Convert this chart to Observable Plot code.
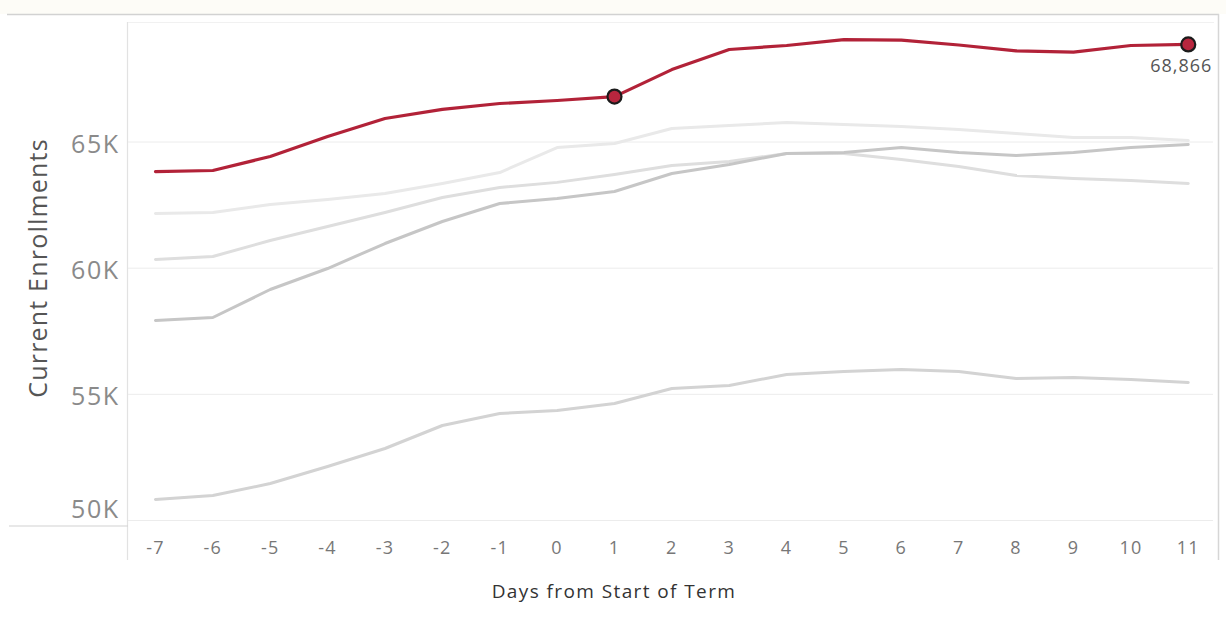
<!DOCTYPE html>
<html>
<head>
<meta charset="utf-8">
<script src="https://cdn.jsdelivr.net/npm/d3@7"></script>
<script src="https://cdn.jsdelivr.net/npm/@observablehq/plot@0.6"></script>
<style>
  html, body { margin: 0; padding: 0; background: #ffffff; }
  #chart svg { display: block; }
  g[aria-label="y-axis tick label"] text { letter-spacing: 1.5px; }
  g[aria-label="x-axis tick label"] text { letter-spacing: 1.2px; }
</style>
</head>
<body>
<div id="chart"></div>
<script>
// ---- data ----
const days = [-7, -6, -5, -4, -3, -2, -1, 0, 1, 2, 3, 4, 5, 6, 7, 8, 9, 10, 11];

const currentTerm = [63830, 63870, 64425, 65220, 65930, 66290, 66525, 66645, 66800, 67870, 68665, 68825, 69060, 69040, 68845, 68610, 68565, 68825, 68866];

const priorTermA = [62166, 62206, 62523, 62720, 62960, 63355, 63790, 64780, 64940, 65535, 65655, 65770, 65690, 65615, 65495, 65335, 65180, 65180, 65060];
const priorTermB = [60343, 60462, 61096, 61650, 62205, 62800, 63200, 63400, 63712, 64070, 64230, 64545, 64545, 64305, 64030, 63672, 63553, 63474, 63355];
const priorTermC = [57925, 58044, 59154, 59986, 60977, 61849, 62562, 62760, 63038, 63751, 64109, 64545, 64584, 64782, 64584, 64465, 64584, 64782, 64900];
const priorTermD = [50832, 50990, 51466, 52140, 52853, 53765, 54240, 54360, 54637, 55232, 55350, 55786, 55905, 55984, 55905, 55628, 55668, 55588, 55470];

const priorNames = ["A", "B", "C", "D"];
const priorValues = [priorTermA, priorTermB, priorTermC, priorTermD];

const yTicks = [50000, 55000, 60000, 65000];
const highlightDays = [1, 11];
const labelDays = [11];

// ---- tables built from the arrays ----
const priorRows = priorNames.flatMap((name, i) =>
  days.map((d, j) => ({ series: name, day: d, value: priorValues[i][j] })));
const currentRows = days.map((d, j) => ({ day: d, value: currentTerm[j] }));
const highlightRows = currentRows.filter(r => highlightDays.includes(r.day));
const labelRows = currentRows.filter(r => labelDays.includes(r.day));

const FONT = "'Open Sans', 'DejaVu Sans', sans-serif";

const chart = Plot.plot({
  width: 1226,
  height: 621,
  marginTop: 22,
  marginBottom: 96,
  marginLeft: 128,
  marginRight: 13,
  style: { fontFamily: FONT, background: "#ffffff" },
  x: { domain: [-7.47, 11.44] },
  y: { domain: [49802, 69736] },
  color: {
    domain: priorNames,
    range: ["#e9e9e9", "#dedede", "#c6c6c6", "#d3d3d3"]
  },
  marks: [
    Plot.frame({ anchor: "top", stroke: "#f1f1f1" }),
    Plot.gridY(yTicks, { stroke: "#ececec", strokeOpacity: 1, strokeWidth: 1 }),
    Plot.axisY(yTicks.slice(1), {
      tickSize: 0, tickPadding: 9, fontSize: 25, color: "#8a8a8a",
      tickFormat: d => d / 1000 + "K", dy: 3, label: null
    }),
    Plot.axisY(yTicks.slice(0, 1), {
      tickSize: 0, tickPadding: 9, fontSize: 25, color: "#8a8a8a",
      tickFormat: d => d / 1000 + "K", dy: -11, label: null
    }),
    Plot.axisX(days, {
      tickSize: 0, tickPadding: 16, fontSize: 18, color: "#777777",
      tickFormat: d => String(d), label: null
    }),
    Plot.lineY(priorRows, {
      x: "day", y: "value", z: "series", stroke: "series",
      strokeWidth: 3, curve: "linear"
    }),
    Plot.lineY(currentRows, {
      x: "day", y: "value", stroke: "#b22238", strokeWidth: 3.2
    }),
    Plot.dot(highlightRows, {
      x: "day", y: "value", r: 7, fill: "#b8263e", stroke: "#1b1b1b", strokeWidth: 2.2
    }),
    Plot.text(labelRows, {
      x: "day", y: "value", text: d => d3.format(",")(d.value),
      dy: 22, dx: -7, fontSize: 18, fill: "#555555"
    }),
    Plot.text(["Current Enrollments"], {
      frameAnchor: "left", textAnchor: "middle", rotate: -90, dx: -90, dy: -6,
      fontSize: 25, fill: "#555555"
    }),
    Plot.text(["Days from Start of Term"], {
      frameAnchor: "bottom", textAnchor: "middle", dx: -57, dy: 72,
      fontSize: 19, fill: "#333333"
    })
  ]
});

// letter spacing for the wider reference typeface
const svg = d3.select(chart);
svg.selectAll("text").each(function () {
  const t = this.textContent;
  if (t === "Current Enrollments") d3.select(this).attr("letter-spacing", "1.2px");
  else if (t === "Days from Start of Term") d3.select(this).attr("letter-spacing", "1.4px");
  else if (t === "68,866") d3.select(this).attr("letter-spacing", "1px");
});

// decorative borders of the view
const deco = svg.insert("g", ":first-child");
deco.append("rect").attr("x", 0).attr("y", 0).attr("width", 1226).attr("height", 14).attr("fill", "#fdfcf7");
deco.append("line").attr("x1", 7).attr("x2", 1219).attr("y1", 14.5).attr("y2", 14.5).attr("stroke", "#d2d2d2").attr("stroke-width", 1.5);
deco.append("line").attr("x1", 1218.5).attr("x2", 1218.5).attr("y1", 14).attr("y2", 560).attr("stroke", "#d6d6d6").attr("stroke-width", 1.5);
deco.append("line").attr("x1", 127.5).attr("x2", 127.5).attr("y1", 22).attr("y2", 560).attr("stroke", "#e2e2e2").attr("stroke-width", 1.2);
deco.append("line").attr("x1", 9).attr("x2", 128).attr("y1", 526).attr("y2", 526).attr("stroke", "#d2d2d2").attr("stroke-width", 1.2);

document.getElementById("chart").appendChild(chart);
</script>
</body>
</html>
